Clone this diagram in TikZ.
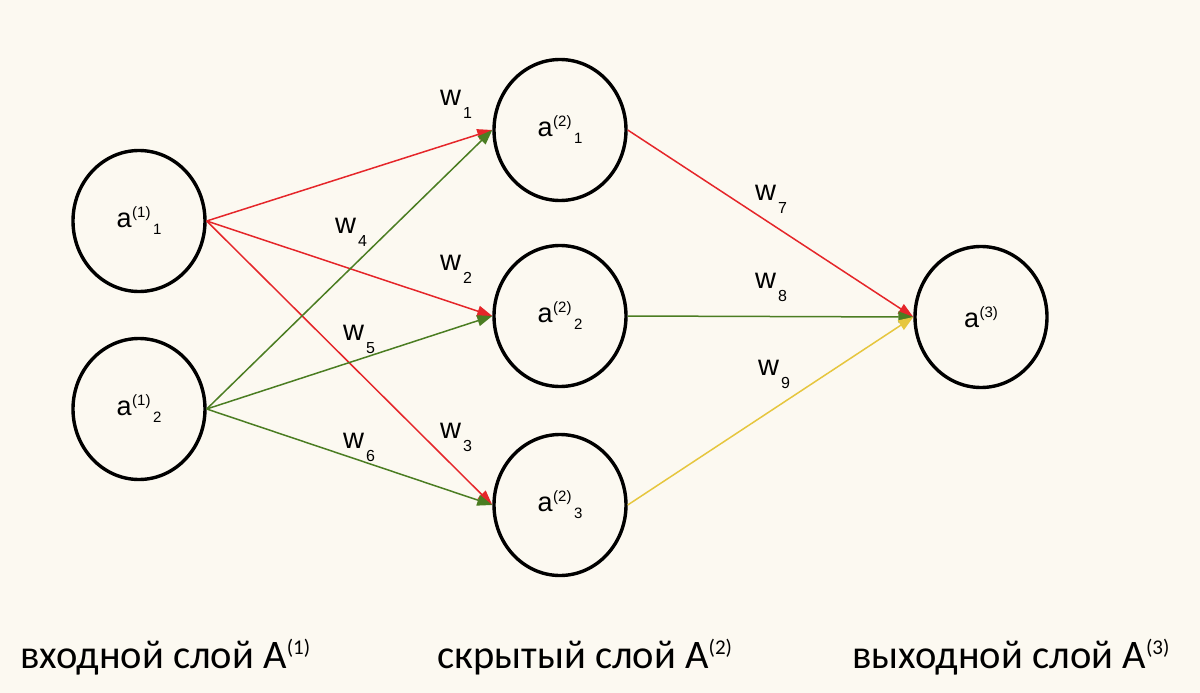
\documentclass[tikz,border=0pt]{standalone}
\usepackage{fontspec}
\setmainfont{Liberation Sans}
\newfontfamily\capfont{Carlito}
\usetikzlibrary{arrows.meta,shapes.geometric}
\definecolor{bgc}{HTML}{FCF9F1}
\definecolor{redc}{HTML}{E5262A}
\definecolor{greenc}{HTML}{4B7D22}
\definecolor{yellowc}{HTML}{E6C63E}
\newcommand\nlab[2]{a\kern0.5pt\raisebox{10pt}{\fontsize{15}{15}\selectfont(#1)}\raisebox{-7pt}{\fontsize{15}{15}\selectfont\,#2}}
\newcommand\wlab[1]{w\kern2pt\raisebox{-13pt}{\fontsize{16}{16}\selectfont #1}}
\newcommand\caplab[2]{#1~A\raisebox{14pt}{\fontsize{21}{21}\selectfont(#2)}}
\begin{document}
\begin{tikzpicture}[x=1pt,y=-1pt,
  neuron/.style={ellipse,draw=black,line width=3.4pt,minimum width=132pt,minimum height=141pt,inner sep=0pt,font=\fontsize{27}{27}\selectfont},
  edge/.style={line width=1.5pt,-{Triangle[length=15pt,width=11pt]}},
  wl/.style={anchor=base west,inner sep=0pt,font=\fontsize{29}{29}\selectfont},
  laylab/.style={anchor=base west,inner sep=0pt,font=\capfont\fontsize{40.5}{40.5}\selectfont}]
\fill[bgc] (0,0) rectangle (1200,693);
\useasboundingbox (0,0) rectangle (1200,693);
\node[neuron] (a11) at (139,221) {\nlab{1}{1}};
\node[neuron] (a12) at (139,409) {\nlab{1}{2}};
\node[neuron] (a21) at (560,130) {\nlab{2}{1}};
\node[neuron] (a22) at (560,316) {\nlab{2}{2}};
\node[neuron] (a23) at (560,505) {\nlab{2}{3}};
\node[neuron] (a3) at (981,317) {a\kern0.5pt\raisebox{10pt}{\fontsize{15}{15}\selectfont(3)}};
\draw[edge,redc] (a11.east) -- (a21.west);
\draw[edge,redc] (a11.east) -- (a22.west);
\draw[edge,redc] (a11.east) -- (a23.west);
\draw[edge,greenc] (a12.east) -- (a21.west);
\draw[edge,greenc] (a12.east) -- (a22.west);
\draw[edge,greenc] (a12.east) -- (a23.west);
\draw[edge,redc] (a21.east) -- (a3.west);
\draw[edge,greenc] (a22.east) -- (a3.west);
\draw[edge,yellowc] (a23.east) -- (a3.west);
\node[wl] (w1) at (440,106) {\wlab{1}};
\node[wl] (w4) at (335,233) {\wlab{4}};
\node[wl] (w2) at (440,270) {\wlab{2}};
\node[wl] (w5) at (343,340) {\wlab{5}};
\node[wl] (w3) at (440,438) {\wlab{3}};
\node[wl] (w6) at (343,448) {\wlab{6}};
\node[wl] (w7) at (755,200) {\wlab{7}};
\node[wl] (w8) at (755,288) {\wlab{8}};
\node[wl] (w9) at (758,375) {\wlab{9}};
\node[laylab] (c1) at (20,668) {\caplab{входной слой}{1}};
\node[laylab] (c2) at (437,668) {\caplab{скрытый слой}{2}};
\node[laylab] (c3) at (852,668) {\caplab{выходной слой}{3}};
\end{tikzpicture}
\end{document}
